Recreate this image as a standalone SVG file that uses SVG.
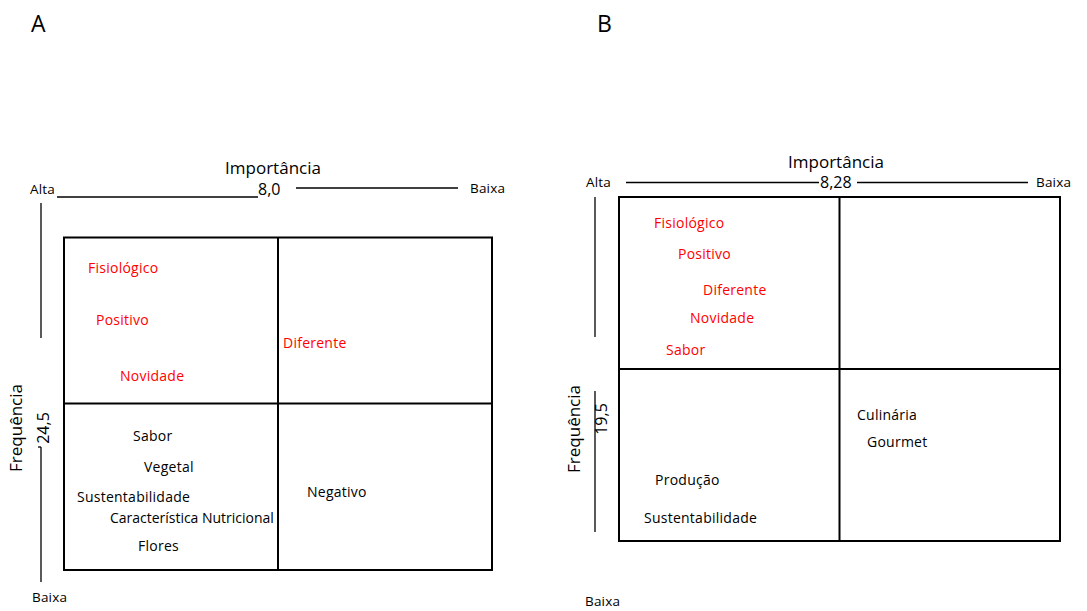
<svg xmlns="http://www.w3.org/2000/svg" width="1087" height="611" viewBox="0 0 1087 611">
<style>
text{font-family:"Open Sans","Noto Sans","Liberation Sans",sans-serif;fill:#000}
.lbl{font-size:14px;letter-spacing:0.25px}
.red{fill:#ff0000}
.ax{font-size:13.5px;letter-spacing:0.2px}
.title{font-size:17px}
.num{font-size:16px}
.panel{font-size:23px}
.axis{stroke:#000;stroke-width:1.3;fill:none}
.box{stroke:#000;stroke-width:2;fill:#fff}
</style>
<rect width="1087" height="611" fill="#fff"/>
<g id="panelA">
  <text class="panel" x="31" y="32">A</text>
  <g id="axesA">
    <text class="title" x="273" y="174" text-anchor="middle">Importância</text>
    <text class="ax" x="30" y="194">Alta</text>
    <line class="axis" x1="57" y1="197" x2="258" y2="197"/>
    <text class="num" x="258" y="195">8,0</text>
    <line class="axis" x1="296" y1="188" x2="458" y2="188"/>
    <text class="ax" x="470" y="193">Baixa</text>
    <line class="axis" x1="41" y1="203" x2="41" y2="338"/>
    <text class="title" transform="translate(22,428) rotate(-90)" text-anchor="middle">Frequência</text>
    <text class="num" transform="translate(49,428) rotate(-90)" text-anchor="middle">24,5</text>
    <line class="axis" x1="38" y1="447" x2="41" y2="447"/>
    <line class="axis" x1="41" y1="447" x2="41" y2="582"/>
    <text class="ax" x="32" y="602">Baixa</text>
  </g>
  <g id="gridA">
    <rect class="box" x="64" y="237.5" width="428" height="332.5"/>
    <line class="box" x1="278" y1="237.5" x2="278" y2="570"/>
    <line class="box" x1="64" y1="403.5" x2="492" y2="403.5"/>
  </g>
  <g id="quadA1">
    <text class="lbl red" x="88" y="273">Fisiológico</text>
    <text class="lbl red" x="96" y="325">Positivo</text>
    <text class="lbl red" x="120" y="381">Novidade</text>
  </g>
  <g id="quadA2">
    <text class="lbl red" x="283" y="348">Diferente</text>
  </g>
  <g id="quadA3">
    <text class="lbl" x="133" y="441">Sabor</text>
    <text class="lbl" x="144" y="472">Vegetal</text>
    <text class="lbl" x="77" y="502">Sustentabilidade</text>
    <text class="lbl" x="110" y="523" textLength="164" lengthAdjust="spacing">Característica Nutricional</text>
    <text class="lbl" x="138" y="551">Flores</text>
  </g>
  <g id="quadA4">
    <text class="lbl" x="307" y="497">Negativo</text>
  </g>
</g>
<g id="panelB">
  <text class="panel" x="597" y="32">B</text>
  <g id="axesB">
    <text class="title" x="836" y="168" text-anchor="middle">Importância</text>
    <text class="ax" x="586" y="187">Alta</text>
    <line class="axis" x1="626" y1="182.5" x2="819" y2="182.5"/>
    <text class="num" x="820" y="188">8,28</text>
    <line class="axis" x1="857" y1="182.5" x2="1028" y2="182.5"/>
    <text class="ax" x="1036" y="187">Baixa</text>
    <line class="axis" x1="595" y1="197" x2="595" y2="337"/>
    <text class="title" transform="translate(580,429) rotate(-90)" text-anchor="middle">Frequência</text>
    <text class="num" transform="translate(607,419) rotate(-90)" text-anchor="middle">19,5</text>
    <line class="axis" x1="595" y1="391" x2="595" y2="532"/>
    <text class="ax" x="585" y="606">Baixa</text>
  </g>
  <g id="gridB">
    <rect class="box" x="619" y="197" width="441" height="344"/>
    <line class="box" x1="839.5" y1="197" x2="839.5" y2="541"/>
    <line class="box" x1="619" y1="369" x2="1060" y2="369"/>
  </g>
  <g id="quadB1">
    <text class="lbl red" x="654" y="228">Fisiológico</text>
    <text class="lbl red" x="678" y="259">Positivo</text>
    <text class="lbl red" x="703" y="295">Diferente</text>
    <text class="lbl red" x="690" y="323">Novidade</text>
    <text class="lbl red" x="666" y="355">Sabor</text>
  </g>
  <g id="quadB3">
    <text class="lbl" x="655" y="485">Produção</text>
    <text class="lbl" x="644" y="523">Sustentabilidade</text>
  </g>
  <g id="quadB4">
    <text class="lbl" x="857" y="420">Culinária</text>
    <text class="lbl" x="867" y="447">Gourmet</text>
  </g>
</g>
</svg>
